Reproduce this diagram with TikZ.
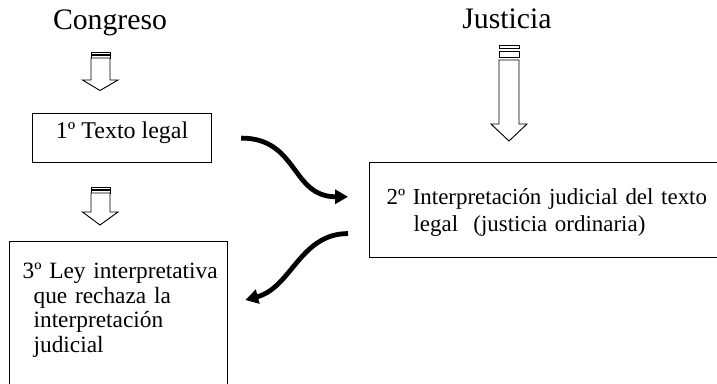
\documentclass[tikz,border=0pt]{standalone}
\usepackage{fontspec}
\setmainfont{Liberation Serif}
\usetikzlibrary{calc,arrows.meta}

\begin{document}
\begin{tikzpicture}[x=0.75pt,y=-0.75pt,
	caja/.style={draw,line width=0.9pt,inner ysep=0pt,font=\fontsize{18pt}{20pt}\selectfont},
	titulo/.style={anchor=base,font=\fontsize{22.3pt}{25pt}\selectfont},
	flecha/.style={line width=3.6pt,-{Triangle[length=9.75pt,width=10.5pt]}},
	bloque/.style={draw,line width=0.7pt,fill=white}]
	%\draw[help lines] (0,0) grid (717,384);
	\useasboundingbox (0,0) rectangle (717,384);
	\clip (0,0) rectangle (717,384);
	%TITULOS
	\node[titulo] (congreso) at (110,30) {Congreso};
	\node[titulo] (justicia) at (507,29) {Justicia};
	%CAJAS
	\node[caja,anchor=north west,minimum width=134.25pt,inner xsep=0pt,text height=18.75pt,text depth=18pt] (texto) at (32,113) {1º Texto legal};
	\node[caja,anchor=north west,text width=300pt,align=left,inner xsep=12.75pt,text height=31.5pt,text depth=39.75pt,font=\fontsize{17.2pt}{20pt}\selectfont] (interp) at (369,162) {2º Interpretación judicial del texto\\\hspace*{20.25pt}legal\ \ (justicia ordinaria)};
	\node[caja,anchor=north west,text width=163.5pt,align=left,inner xsep=0pt,text height=27.75pt,text depth=160pt,font=\fontsize{17.5pt}{18.5pt}\selectfont] (ley) at (9,241) {\hspace*{9.75pt}3º Ley interpretativa\\\hspace*{18pt}que rechaza la\\\hspace*{18pt}interpretación\\\hspace*{18pt}judicial};
	%FLECHAS DE BLOQUE
	\draw[bloque] (91,52) rectangle (110,54.5);
	\draw[bloque] (91,55.5) rectangle (110,58);
	\draw[bloque] (91,58) -- (91,80) -- (82.5,80) -- (100,90.5) -- (118,80) -- (110,80) -- (110,58) -- cycle;
	\draw[bloque] (91,187) rectangle (110,189.5);
	\draw[bloque] (91,190.5) rectangle (110,193);
	\draw[bloque] (91,193) -- (91,212) -- (82.5,212) -- (100,225) -- (118,212) -- (110,212) -- (110,193) -- cycle;
	\draw[bloque] (499,45) rectangle (519,48);
	\draw[bloque] (499,51) rectangle (519,57);
	\draw[bloque] (499,60) -- (499,124) -- (491,124) -- (509,141) -- (527,124) -- (519,124) -- (519,60) -- cycle;
	%FLECHAS CURVAS
	\coordinate (a1) at ([xshift=21.75pt]texto.east);
	\coordinate (a2) at ([xshift=-15.75pt,yshift=10pt]interp.west);
	\coordinate (b1) at ([xshift=-15.75pt,yshift=-17.6pt]interp.west);
	\coordinate (b2) at ([xshift=12.75pt,yshift=-44.25pt]ley.north east);
	\draw[flecha] (a1) to[out=0,in=180,looseness=1.2] (a2);
	\draw[flecha] (b1) to[out=180,in=15] (b2);
\end{tikzpicture}
\end{document}
